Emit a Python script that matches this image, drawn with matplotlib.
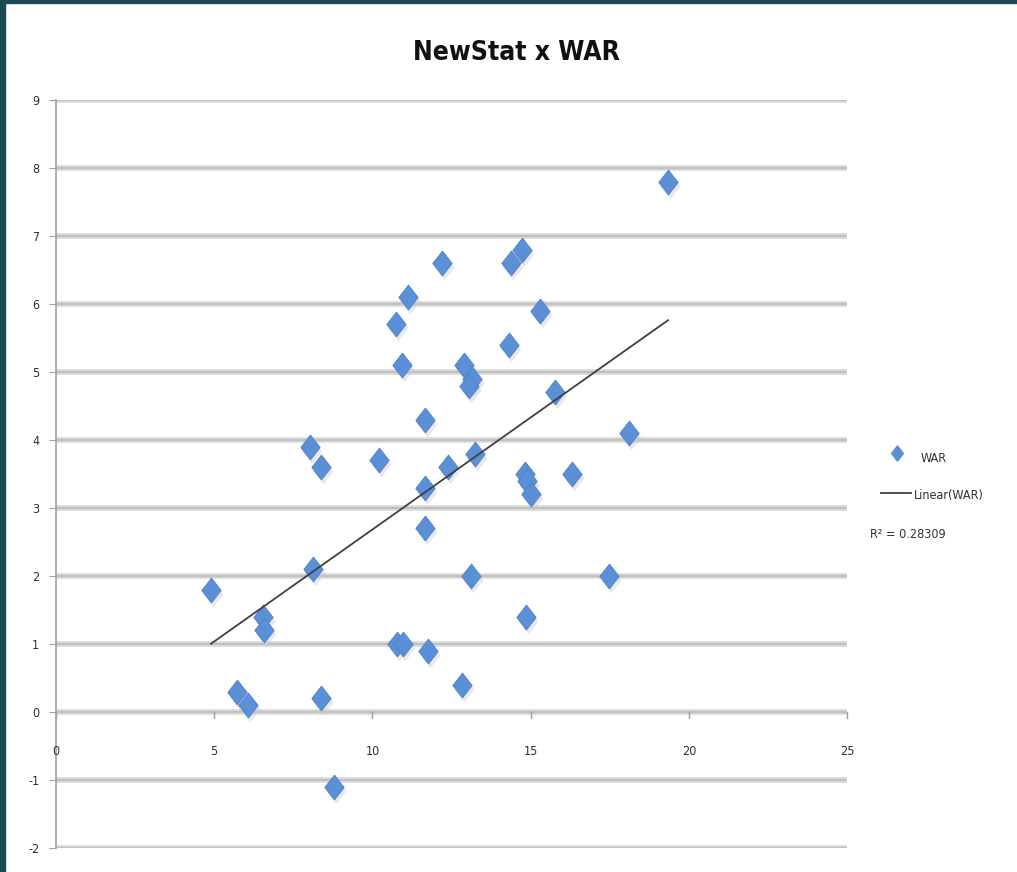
import matplotlib.pyplot as plt
import numpy as np
from matplotlib.path import Path
from matplotlib.lines import Line2D

# NewStat vs WAR for each player
newstat = [19.34, 14.73, 14.38, 12.20, 11.12, 15.30, 10.75, 14.30, 10.94, 12.90,
           13.15, 13.05, 15.77, 11.66, 18.10, 8.03, 10.20, 8.38, 12.39, 13.24,
           14.82, 16.31, 14.89, 15.01, 11.66, 11.66, 8.12, 13.12, 17.48, 4.90,
           6.54, 14.86, 6.57, 10.78, 10.97, 11.76, 12.83, 5.72, 6.07, 8.38, 8.79]
war = [7.8, 6.8, 6.6, 6.6, 6.1, 5.9, 5.7, 5.4, 5.1, 5.1,
       4.9, 4.8, 4.7, 4.3, 4.1, 3.9, 3.7, 3.6, 3.6, 3.8,
       3.5, 3.5, 3.4, 3.2, 3.3, 2.7, 2.1, 2.0, 2.0, 1.8,
       1.4, 1.4, 1.2, 1.0, 1.0, 0.9, 0.4, 0.3, 0.1, 0.2, -1.1]

x_ticks = [0, 5, 10, 15, 20, 25]
y_ticks = [-2, -1, 0, 1, 2, 3, 4, 5, 6, 7, 8, 9]
r2_text = "R² = 0.28309"

plt.rcParams['font.family'] = ['DejaVu Sans']
plt.rcParams['font.stretch'] = 'condensed'
plt.rcParams['axes.unicode_minus'] = False

fig = plt.figure(figsize=(10.17, 8.72), dpi=100)
fig.patch.set_facecolor('white')

# dark frame on the left and top edges
fig.add_artist(plt.Rectangle((0, 0), 0.005, 1, transform=fig.transFigure,
                             color='#1d4a52', zorder=10))
fig.add_artist(plt.Rectangle((0, 0.9965), 1, 0.0035, transform=fig.transFigure,
                             color='#1d4a52', zorder=10))

ax = fig.add_axes([0.055, 0.0275, 0.778, 0.8578])
ax.set_xlim(0, 25)
ax.set_ylim(-2, 9)

# horizontal gridlines, Excel style
for yv in y_ticks:
    ax.axhline(yv, color='#d8d8d8', lw=4, zorder=1)
    ax.axhline(yv, color='#bcbcbc', lw=1.2, zorder=1)

for side in ['top', 'right', 'bottom']:
    ax.spines[side].set_visible(False)
ax.spines['left'].set_color('#a0a0a0')
ax.spines['left'].set_linewidth(1.2)

ax.set_yticks(y_ticks)
ax.tick_params(axis='y', direction='out', length=5, color='#a0a0a0',
               labelsize=9, labelcolor='#303030', pad=7)

# x ticks sit on the zero line
ax.set_xticks(x_ticks)
ax.set_xticklabels([])
ax.tick_params(axis='x', length=0)
for xv in x_ticks:
    ax.plot([xv, xv], [0, -0.09], color='#a0a0a0', lw=1, zorder=2, clip_on=False)
    ax.text(xv, -0.58, str(xv), ha='center', va='center', fontsize=9,
            color='#303030')

# stretched diamond marker
diamond = Path([(0, 1), (0.78, 0), (0, -1), (-0.78, 0), (0, 1)],
               [Path.MOVETO, Path.LINETO, Path.LINETO, Path.LINETO, Path.CLOSEPOLY])

ax.scatter(np.array(newstat) + 0.07, np.array(war) - 0.06, marker=diamond, s=340,
           color='#cccccc', alpha=0.45, linewidths=0, zorder=3)
ax.scatter(newstat, war, marker=diamond, s=320, color='#5b8fd6',
           edgecolors='#4c80c9', linewidths=0.6, zorder=4)

# linear trendline over the data range
slope, intercept = np.polyfit(newstat, war, 1)
xs = np.array([min(newstat), max(newstat)])
ax.plot(xs, slope * xs + intercept, color='#404040', lw=1.3, zorder=5)

# chart title centred on the whole chart area
fig.text(0.508, 1 - 53 / 872, 'NewStat x WAR', fontsize=19, fontweight='bold',
         color='#111111', ha='center', va='center')

# legend entries at right
fig.add_artist(Line2D([0.882], [1 - 453 / 872], marker=diamond, markersize=11,
                      color='#5b8fd6', linestyle='none', transform=fig.transFigure))
fig.text(0.905, 1 - 458 / 872, 'WAR', fontsize=9, color='#303030', va='center')
fig.add_artist(Line2D([0.866, 0.896], [1 - 493 / 872] * 2, color='#404040', lw=1.3,
                      transform=fig.transFigure))
fig.text(0.899, 1 - 495 / 872, 'Linear(WAR)', fontsize=9, color='#303030', va='center')
fig.text(0.855, 1 - 535 / 872, r2_text, fontsize=9, color='#303030', va='center')

fig.savefig('out.png', dpi=100, facecolor='white')
